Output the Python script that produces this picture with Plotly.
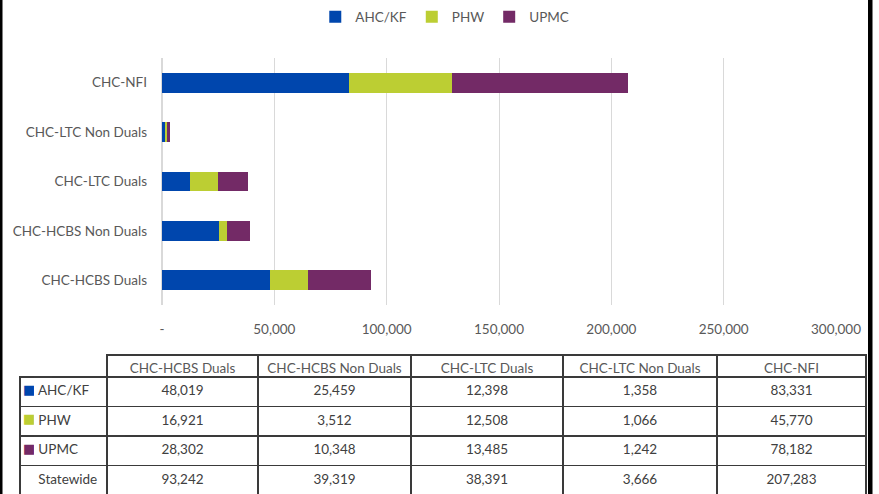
import plotly.graph_objects as go

W, H = 879, 494
FONT = "Lato, Carlito, Liberation Sans, sans-serif"
GREY = "#595959"
NB = "\u00a0"

categories = ["CHC-HCBS Duals", "CHC-HCBS Non Duals", "CHC-LTC Duals", "CHC-LTC Non Duals", "CHC-NFI"]
plans = ["AHC/KF", "PHW", "UPMC"]
ahc_kf = [48019, 25459, 12398, 1358, 83331]
phw = [16921, 3512, 12508, 1066, 45770]
upmc = [28302, 10348, 13485, 1242, 78182]
statewide = [93242, 39319, 38391, 3666, 207283]
colors = ["#0046AD", "#BCCE33", "#732A66"]
tick_vals = [0, 50000, 100000, 150000, 200000, 250000, 300000]
tick_text = ["-", "50,000", "100,000", "150,000", "200,000", "250,000", "300,000"]

series = [ahc_kf, phw, upmc]

fig = go.Figure()
for name, vals, col in zip(plans, series, colors):
    fig.add_trace(go.Bar(
        y=categories, x=vals, name=name, orientation="h",
        marker=dict(color=col, line=dict(width=0)),
    ))

def fmt(v):
    return f"{v:,}"

cell_vals = []
for i in range(len(categories)):
    cell_vals.append([fmt(ahc_kf[i]), fmt(phw[i]), fmt(upmc[i]), fmt(statewide[i])])

px_x = lambda p: p / W
px_y = lambda p: 1 - p / H

LINE = "#3a3a3a"
TFONT = 13.5
ROWH = 29.5
fig.add_trace(go.Table(
    domain=dict(x=[px_x(107), px_x(866)], y=[0, px_y(355)]),
    columnwidth=[151, 153, 152, 154, 149],
    header=dict(values=[c.replace(" ", NB) for c in categories], height=22, align="center",
                line=dict(color=LINE, width=1.5), fill=dict(color="white"),
                font=dict(family=FONT, size=TFONT, color=GREY)),
    cells=dict(values=cell_vals, height=ROWH, align="center",
               line=dict(color=LINE, width=1.5), fill=dict(color="white"),
               font=dict(family=FONT, size=TFONT, color="#404040")),
))

# row-label column (no header cell)
label_cells = [NB * 3 + p for p in plans] + [NB * 3 + "Statewide"]
fig.add_trace(go.Table(
    domain=dict(x=[px_x(20), px_x(107)], y=[0, px_y(355)]),
    header=dict(values=[""], height=22, line=dict(width=0, color="white"),
                fill=dict(color="rgba(0,0,0,0)")),
    cells=dict(values=[label_cells], height=ROWH, align="left",
               line=dict(color=LINE, width=1.5), fill=dict(color="white"),
               font=dict(family=FONT, size=TFONT, color="#404040")),
))
# coloured legend keys inside the label cells
key_cells = ["■"] * len(plans) + [""]
fig.add_trace(go.Table(
    domain=dict(x=[px_x(15), px_x(34)], y=[0, px_y(354)]),
    header=dict(values=[""], height=22, line=dict(width=0, color="rgba(0,0,0,0)"),
                fill=dict(color="rgba(0,0,0,0)")),
    cells=dict(values=[key_cells], height=ROWH, align="left",
               line=dict(width=0, color="rgba(0,0,0,0)"), fill=dict(color="rgba(0,0,0,0)"),
               font=dict(family="DejaVu Sans", size=13, color=[colors + ["white"]])),
))

fig.update_layout(
    width=W, height=H, autosize=False,
    margin=dict(l=0, r=0, t=0, b=0, autoexpand=False),
    paper_bgcolor="white", plot_bgcolor="white",
    barmode="stack", bargap=0.6,
    font=dict(family=FONT, size=13.5, color=GREY),
    legend=dict(orientation="h", x=0.506, xanchor="center", y=px_y(17), yanchor="middle",
                font=dict(family=FONT, size=13.5, color=GREY), traceorder="normal",
                itemwidth=30),
    xaxis=dict(domain=[px_x(162), px_x(836)], range=[0, 300000], automargin=False,
               tickvals=tick_vals, ticktext=tick_text, showgrid=True,
               gridcolor="#D9D9D9", gridwidth=1, zeroline=True, zerolinecolor="#D9D9D9",
               showline=False, ticks="", ticklabelstandoff=14,
               tickfont=dict(family=FONT, size=13.5, color=GREY), anchor="y"),
    yaxis=dict(domain=[px_y(305), px_y(58)], categoryorder="array", categoryarray=categories,
               automargin=False,
               showgrid=False, showline=False, ticks="", ticklabelstandoff=14,
               tickfont=dict(family=FONT, size=13.5, color=GREY), anchor="x"),
    shapes=[
        dict(type="rect", xref="paper", yref="paper", x0=0, x1=px_x(2.5), y0=0, y1=1,
             fillcolor="black", line=dict(width=0)),
        dict(type="rect", xref="paper", yref="paper", x0=px_x(868), x1=px_x(872.5), y0=0, y1=1,
             fillcolor="black", line=dict(width=0)),
    ],
)

post = ("document.body.style.margin='0';document.body.style.overflow='hidden';"
        "var gd=document.getElementById('{plot_id}');"
        "Plotly.relayout(gd,{width:879,height:494});")

fig.write_html("out.html", config={"responsive": False, "displayModeBar": False},
               default_width="879px", default_height="494px", post_script=post)
